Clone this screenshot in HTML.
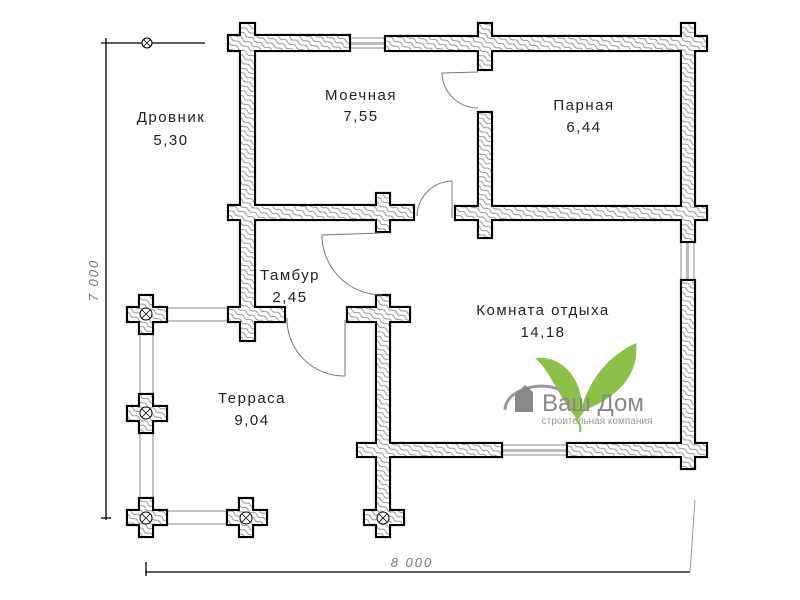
<!DOCTYPE html>
<html><head><meta charset="utf-8"><style>
html,body{margin:0;padding:0;background:#fff}
svg{display:block}
text{font-family:"Liberation Sans",sans-serif;fill:#222;font-size:15px;letter-spacing:1.5px;text-anchor:middle}
</style></head><body>
<svg width="800" height="600" viewBox="0 0 800 600" xmlns="http://www.w3.org/2000/svg">
<defs>
<pattern id="h" width="5" height="10" patternUnits="userSpaceOnUse" patternTransform="rotate(-60)">
<rect width="5" height="10" fill="#fff"/>
<path d="M2.5,0 Q0.5,2.5 2.5,5 T2.5,10" stroke="#888" stroke-width="0.9" fill="none"/>
</pattern>
</defs>
<rect width="800" height="600" fill="#fff"/>
<g stroke="#000" stroke-width="1.3" fill="none">
<line x1="106" y1="38" x2="106" y2="520"/>
<line x1="101" y1="43" x2="205" y2="43"/>
<line x1="101" y1="518" x2="111" y2="518"/>
<line x1="145" y1="572" x2="690" y2="572"/>
<line x1="146" y1="562" x2="146" y2="576"/>
</g>
<line x1="690" y1="572" x2="695" y2="500" stroke="#999" stroke-width="1"/>
<circle cx="147" cy="43" r="5" fill="#fff" stroke="#000"/>
<path d="M143.5,39.5 l7,7 M150.5,39.5 l-7,7" stroke="#000" stroke-width="0.8"/>
<text x="98" y="280" transform="rotate(-90 98 280)" style="font-style:italic;font-size:13px;fill:#777;letter-spacing:2px">7 000</text>
<text x="412" y="567" style="font-style:italic;font-size:13px;fill:#777;letter-spacing:2px">8 000</text>

<g stroke="#888" stroke-width="1" fill="none">
<path d="M167,308H228M167,321H228M167,511H228M167,524H228"/>
<path d="M140,333V397M153,333V397M140,432V498M153,432V498"/>
<path d="M350,38H385M350,48H385" />
<path d="M681,242V280M694,242V280M502,445H567M502,455H567"/>
</g>
<g fill="#bbb"><rect x="350" y="42" width="35" height="3"/><rect x="686" y="242" width="3" height="38"/><rect x="502" y="449" width="65" height="3"/></g>

<g stroke="#000" stroke-width="2.2" fill="url(#h)">
<rect x="228" y="35" width="122" height="16"/>
<rect x="385" y="36" width="322" height="15"/>
<rect x="240" y="23" width="15" height="318"/>
<rect x="228" y="205" width="186" height="15"/>
<rect x="376" y="193" width="14" height="39"/>
<rect x="228" y="307" width="57" height="15"/>
<rect x="478" y="23" width="14" height="47"/>
<rect x="478" y="112" width="14" height="126"/>
<rect x="455" y="206" width="252" height="14"/>
<rect x="681" y="23" width="14" height="219"/>
<rect x="681" y="280" width="14" height="189"/>
<rect x="357" y="443" width="145" height="14"/>
<rect x="567" y="443" width="140" height="14"/>
<rect x="376" y="295" width="14" height="242"/>
<rect x="347" y="307" width="63" height="15"/>
<rect x="364" y="510" width="40" height="15"/>
<rect x="139" y="295" width="14" height="39"/><rect x="127" y="307" width="40" height="15"/>
<rect x="139" y="394" width="14" height="39"/><rect x="127" y="406" width="40" height="15"/>
<rect x="139" y="498" width="14" height="39"/><rect x="127" y="510" width="40" height="15"/>
<rect x="239" y="498" width="14" height="39"/><rect x="227" y="510" width="40" height="15"/>
</g>
<g fill="url(#h)" stroke="none">
<rect x="229" y="36" width="120" height="14"/>
<rect x="386" y="37" width="320" height="13"/>
<rect x="241" y="24" width="13" height="316"/>
<rect x="229" y="206" width="184" height="13"/>
<rect x="377" y="194" width="12" height="37"/>
<rect x="229" y="308" width="55" height="13"/>
<rect x="479" y="24" width="12" height="45"/>
<rect x="479" y="113" width="12" height="124"/>
<rect x="456" y="207" width="250" height="12"/>
<rect x="682" y="24" width="12" height="217"/>
<rect x="682" y="281" width="12" height="187"/>
<rect x="358" y="444" width="143" height="12"/>
<rect x="568" y="444" width="138" height="12"/>
<rect x="377" y="296" width="12" height="240"/>
<rect x="348" y="308" width="61" height="13"/>
<rect x="365" y="511" width="38" height="13"/>
<rect x="140" y="296" width="12" height="37"/><rect x="128" y="308" width="38" height="13"/>
<rect x="140" y="395" width="12" height="37"/><rect x="128" y="407" width="38" height="13"/>
<rect x="140" y="499" width="12" height="37"/><rect x="128" y="511" width="38" height="13"/>
<rect x="240" y="499" width="12" height="37"/><rect x="228" y="511" width="38" height="13"/>
</g>
<g fill="#fff" stroke="#000" stroke-width="1">
<circle cx="146" cy="314" r="6"/><circle cx="146" cy="413" r="6"/><circle cx="146" cy="518" r="6"/><circle cx="246" cy="518" r="6"/><circle cx="383" cy="518" r="6"/>
</g>
<g stroke="#000" stroke-width="0.8">
<path d="M142,310l8,8M150,310l-8,8M142,409l8,8M150,409l-8,8M142,514l8,8M150,514l-8,8M242,514l8,8M250,514l-8,8M379,514l8,8M387,514l-8,8"/>
</g>

<g stroke="#777" stroke-width="1" fill="none">
<path d="M478,72L442,73A36,36 0 0 0 478,108"/>
<path d="M452,218L452,181A36,36 0 0 0 417,216"/>
<path d="M380,233L322,235A60,60 0 0 0 382,295"/>
<path d="M345,320L345,376M287,318A57,57 0 0 0 345,376"/>
</g>

<text x="171" y="122">Дровник</text><text x="171" y="145">5,30</text>
<text x="361" y="100">Моечная</text><text x="361" y="121">7,55</text>
<text x="584" y="110">Парная</text><text x="584" y="132">6,44</text>
<text x="290" y="280">Тамбур</text><text x="290" y="302">2,45</text>
<text x="543" y="315">Комната отдыха</text><text x="543" y="337">14,18</text>
<text x="252" y="403">Терраса</text><text x="252" y="425">9,04</text>

<path d="M578,420 C560,400 550,370 535,358 C560,355 580,375 582,405Z" fill="#8cc04a"/>
<path d="M578,420 C585,390 600,360 636,343 C640,380 610,400 585,410Z" fill="#8cc04a"/>
<path d="M575,418 Q582,425 580,432" stroke="#8cc04a" stroke-width="2" fill="none"/>
<path d="M505,410 C505,390 540,380 560,390" stroke="#999" stroke-width="3" fill="none"/>
<path d="M515,395 L525,385 L533,392 L533,412 L515,412Z" fill="#888"/>
<text x="593" y="411" style="font-size:24px;fill:#888;letter-spacing:0">Ваш Дом</text>
<text x="597" y="424" style="font-size:10px;fill:#999;letter-spacing:0">строительная компания</text>
</svg>
</body></html>
